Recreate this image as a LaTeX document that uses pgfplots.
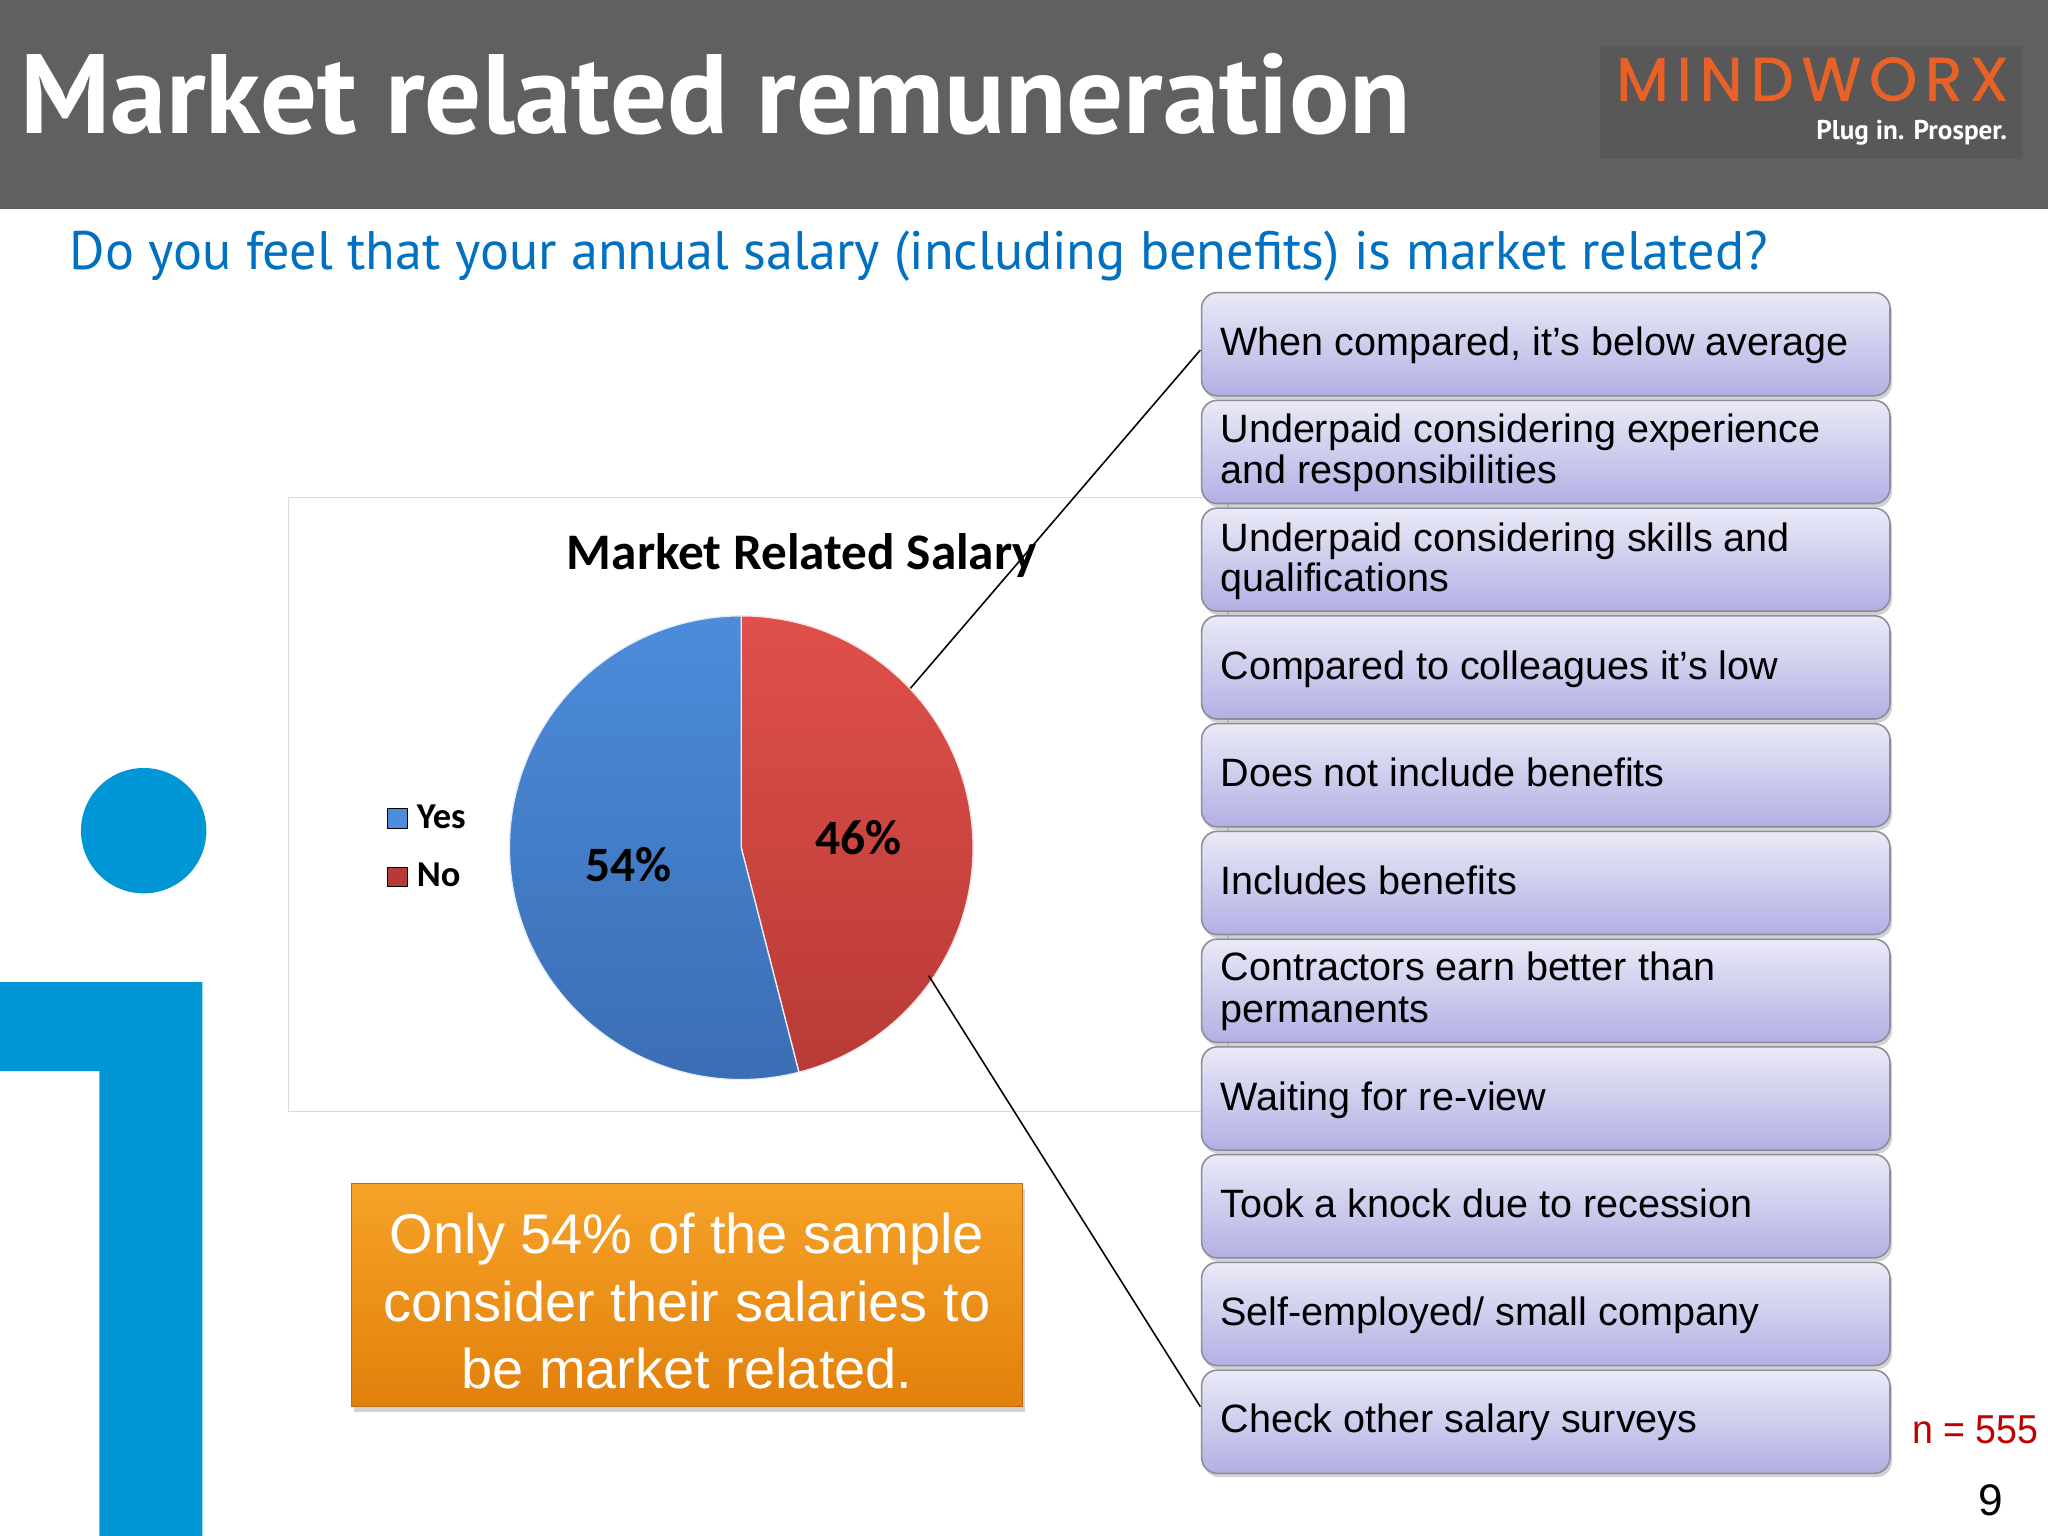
\documentclass[border=0pt]{standalone}
\usepackage{fontspec}
\setmainfont{Liberation Sans}
\newfontfamily\titlefont{PT Sans}
\newfontfamily\calibri{Carlito}
\newfontfamily\logofont{Poppins}[LetterSpace=13,FakeBold=1.2]
\usepackage{pgfplots}
\usepackage{pgfplotstable}
\pgfplotsset{compat=1.18}
\usetikzlibrary{shadows}

\definecolor{headgray}{RGB}{96,96,96}
\definecolor{logogray}{RGB}{88,88,88}
\definecolor{logoorange}{RGB}{232,98,40}
\definecolor{subblue}{RGB}{0,112,192}
\definecolor{iblue}{RGB}{0,150,214}
\definecolor{chartborder}{RGB}{217,217,217}
\definecolor{pieblueT}{RGB}{76,140,218}
\definecolor{pieblueB}{RGB}{58,108,178}
\definecolor{pieredT}{RGB}{224,80,74}
\definecolor{pieredB}{RGB}{184,58,54}
\definecolor{boxT}{RGB}{234,234,247}
\definecolor{boxB}{RGB}{178,176,228}
\definecolor{boxborder}{RGB}{140,140,155}
\definecolor{orT}{RGB}{246,162,40}
\definecolor{orB}{RGB}{226,128,12}
\definecolor{nred}{RGB}{192,0,0}

\pgfplotstableread{
label value
Yes 54
No 46
}\piedata

\begin{document}
\begin{tikzpicture}[x=0.5bp,y=-0.5bp]
\useasboundingbox (0,0) rectangle (1568,1176);
\fill[white] (0,0) rectangle (1568,1176);

% header
\fill[headgray] (0,0) rectangle (1568,160);
\node[anchor=base west, inner sep=0, text=white] at (15,102)
  {\resizebox{532.5bp}{!}{\titlefont\bfseries\fontsize{38}{40}\selectfont Market related remuneration}};
% logo
\fill[logogray] (1225,35) rectangle (1548,122);
\node[anchor=base west, inner sep=0, text=logoorange] at (1237,77)
  {\resizebox{150bp}{!}{\logofont\fontsize{22}{24}\selectfont MINDWORX}};
\node[anchor=base east, inner sep=0, text=white] at (1537,107)
  {\resizebox{73bp}{!}{\titlefont\bfseries\fontsize{10}{12}\selectfont Plug in. Prosper.}};

% subtitle
\node[anchor=base west, inner sep=0, text=subblue] at (53,206)
  {\resizebox{650bp}{!}{\titlefont\fontsize{20}{24}\selectfont Do you feel that your annual salary (including benefits) is market related?}};

% i logo
\fill[iblue] (110,636) circle[radius=24bp];
\fill[iblue] (0,752) -- (155,752) -- (155,1176) -- (76,1176) -- (76,820) -- (0,820) -- cycle;

% chart frame
\draw[chartborder, fill=white, line width=0.6bp] (221,381) rectangle (940,851);
\node[anchor=base, inner sep=0] at (614,436)
  {\calibri\bfseries\fontsize{19.7}{23}\selectfont Market Related Salary};

% pie data
\pgfplotstablegetelem{0}{value}\of\piedata \let\yesval\pgfplotsretval
\pgfplotstablegetelem{1}{value}\of\piedata \let\noval\pgfplotsretval
\pgfmathsetmacro\noend{90-3.6*\noval}
\pgfmathsetmacro\yesend{\noend-3.6*\yesval}

\begin{axis}[at={(283.75bp,-324.5bp)}, anchor=center,
  width=177.5bp, height=177.5bp, scale only axis,
  xmin=-1, xmax=1, ymin=-1, ymax=1, hide axis, clip=false,
  legend cell align=left,
  legend style={at={(-0.265,0.5)}, anchor=west, draw=none, fill=none,
    font=\calibri\bfseries\fontsize{14}{16}\selectfont, row sep=8bp, inner sep=0pt,
    nodes={inner xsep=3.5bp}},
  legend image code/.code={\fill[#1] (0bp,-3.75bp) rectangle (7.5bp,3.75bp);}]
\path[top color=pieredT, bottom color=pieredB, draw=white!85!pieredT, line width=0.5bp]
  (axis cs:0,0) -- ++(90:88.75bp) arc[start angle=90, end angle=\noend, radius=88.75bp] -- cycle;
\path[top color=pieblueT, bottom color=pieblueB, draw=white!85!pieblueT, line width=0.5bp]
  (axis cs:0,0) -- ++(\noend:88.75bp) arc[start angle=\noend, end angle=\yesend, radius=88.75bp] -- cycle;
\addlegendimage{fill=pieblueT}
\addlegendentry{Yes}
\addlegendimage{fill=pieredB}
\addlegendentry{No}
\node[font=\calibri\bfseries\fontsize{19}{22}\selectfont] at (axis cs:-0.487,-0.073) {\yesval\%};
\node[font=\calibri\bfseries\fontsize{19}{22}\selectfont] at (axis cs:0.504,0.045) {\noval\%};
\end{axis}

% connector lines
\draw[black, line width=0.6bp] (697,527) -- (919,268);
\draw[black, line width=0.6bp] (711,747) -- (919,1077);

% reason boxes
\foreach \t in {224,306.5,389,471.5,554,636.5,719,801.5,884,966.5,1049}{
  \path[top color=boxT, bottom color=boxB, draw=boxborder, line width=0.6bp,
        rounded corners=6bp,
        drop shadow={shadow xshift=0.8bp, shadow yshift=-1.5bp, opacity=0.35}]
    (920,\t) rectangle (1447,\t+79);
}
\begin{scope}[every node/.style={anchor=base west, inner sep=0, font=\fontsize{15.2}{16}\selectfont}]
\node at (934,272) {When compared, it’s below average};
\node at (934,339) {Underpaid considering experience};
\node at (934,370) {and responsibilities};
\node at (934,422) {Underpaid considering skills and};
\node at (934,453) {qualifications};
\node at (934,520) {Compared to colleagues it’s low};
\node at (934,602) {Does not include benefits};
\node at (934,685) {Includes benefits};
\node at (934,751) {Contractors earn better than};
\node at (934,783) {permanents};
\node at (934,850) {Waiting for re-view};
\node at (934,932) {Took a knock due to recession};
\node at (934,1015) {Self-employed/ small company};
\node at (934,1097) {Check other salary surveys};
\end{scope}

% orange callout
\path[top color=orT, bottom color=orB, draw=orB!85!black, line width=0.6bp,
      drop shadow={shadow xshift=1bp, shadow yshift=-2bp, opacity=0.35}]
  (269,906) rectangle (783,1077);
\begin{scope}[every node/.style={anchor=base, inner sep=0, text=white, font=\fontsize{21.5}{24}\selectfont}]
\node at (526,960) {Only 54\% of the sample};
\node at (526,1012) {consider their salaries to};
\node at (526,1063) {be market related.};
\end{scope}

% n and page number
\node[anchor=base east, inner sep=0, text=nred] at (1561,1105)
  {\scalebox{0.93}[1]{\fontsize{15.5}{18}\selectfont n = 555}};
\node[anchor=base, inner sep=0] at (1524,1160) {\fontsize{17}{20}\selectfont 9};
\end{tikzpicture}
\end{document}
